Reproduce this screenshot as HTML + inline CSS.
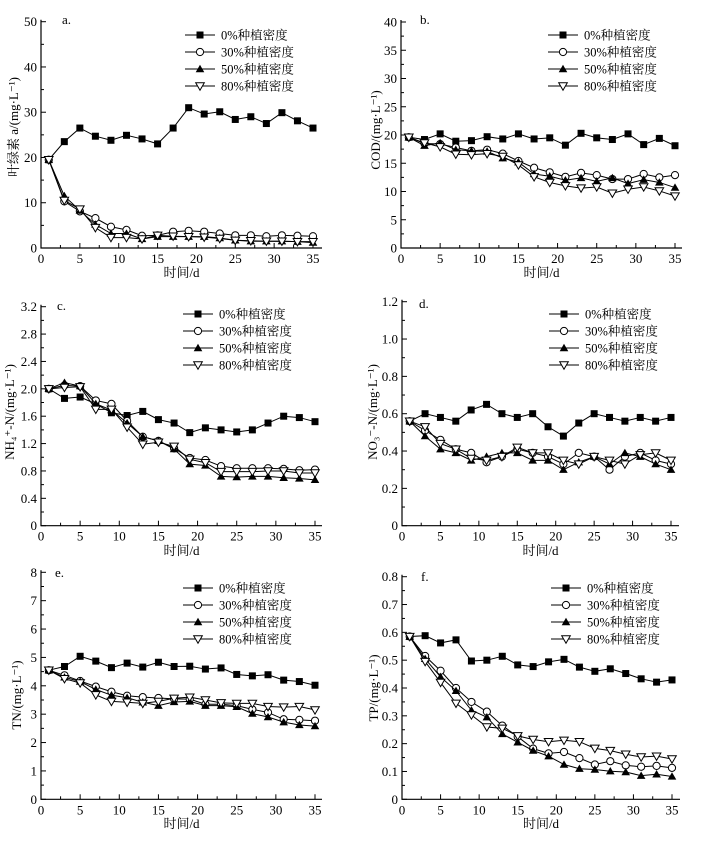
<!DOCTYPE html>
<html><head><meta charset="utf-8"><style>
html,body{margin:0;padding:0;background:#fff}
svg{display:block}
text{font-family:"Liberation Serif","Noto Serif CJK SC","Noto Sans CJK SC",serif;fill:#000}
</style></head><body>
<svg id="chart" width="704" height="847" viewBox="0 0 704 847" xmlns="http://www.w3.org/2000/svg"></svg>
<script>
const days=[1,3,5,7,9,11,13,15,17,19,21,23,25,27,29,31,33,35];
const seriesNames=["0%种植密度","30%种植密度","50%种植密度","80%种植密度"];
const chlA0=[19.5,23.5,26.5,24.7,23.8,24.9,24.1,23,26.5,31,29.6,30.1,28.4,29,27.5,29.9,28.1,26.5];
const chlA30=[19.5,10.3,8.1,6.6,4.7,4,2.7,2.8,3.6,3.8,3.6,3.2,2.8,2.8,2.6,2.8,2.7,2.6];
const chlA50=[19.5,11.5,8.3,5.2,3.2,3.2,2,2.5,2.5,2.5,2.5,2.2,1.7,1.5,1.5,1.5,1.4,1.2];
const chlA80=[19.5,10.5,8.6,4.5,2.3,2.3,2,2.8,2.6,2.5,2.4,2.1,1.7,1.6,1.5,1.5,1.4,1.4];
const cod0=[19.6,19.2,20.2,18.9,19,19.7,19.3,20.2,19.3,19.5,18.2,20.3,19.5,19.2,20.2,18.3,19.4,18.1];
const cod30=[19.6,18.5,18.4,17.8,17.2,17.4,16.7,15.4,14.2,13.4,12.6,13.3,12.9,12.2,12.2,13.1,12.5,12.9];
const cod50=[19.6,18.1,18.6,17.4,17.2,17.1,15.9,15.2,13.1,12.7,12,12.4,11.8,12.4,11.4,12.1,11.6,10.7];
const cod80=[19.6,18.6,17.9,16.6,16.5,16.7,16.2,14.7,12.6,11.6,11,10.6,10.8,9.7,10.4,10.8,10.1,9.2];
const nh0=[2.0,1.86,1.88,1.78,1.65,1.61,1.67,1.55,1.5,1.36,1.43,1.4,1.37,1.4,1.5,1.6,1.58,1.52];
const nh30=[2.0,2.05,2.04,1.83,1.78,1.53,1.3,1.24,1.13,0.99,0.96,0.87,0.84,0.84,0.84,0.83,0.81,0.82];
const nh50=[2.0,2.09,2.04,1.78,1.69,1.5,1.3,1.24,1.12,0.9,0.88,0.72,0.71,0.72,0.72,0.7,0.69,0.67];
const nh80=[2.0,2.02,2.03,1.7,1.7,1.44,1.19,1.22,1.16,0.97,0.92,0.79,0.79,0.79,0.8,0.8,0.77,0.77];
const no0=[0.56,0.6,0.58,0.56,0.62,0.65,0.6,0.58,0.6,0.53,0.48,0.55,0.6,0.58,0.56,0.58,0.56,0.58];
const no30=[0.56,0.51,0.46,0.41,0.39,0.34,0.37,0.41,0.39,0.37,0.33,0.39,0.37,0.3,0.37,0.39,0.35,0.33];
const no50=[0.56,0.48,0.41,0.39,0.35,0.37,0.39,0.39,0.35,0.35,0.3,0.34,0.37,0.33,0.39,0.37,0.33,0.3];
const no80=[0.56,0.53,0.44,0.41,0.36,0.35,0.37,0.42,0.39,0.39,0.35,0.33,0.37,0.35,0.33,0.38,0.39,0.35];
const tn0=[4.55,4.68,5.04,4.87,4.64,4.8,4.66,4.83,4.68,4.69,4.59,4.63,4.4,4.35,4.39,4.2,4.15,4.02];
const tn30=[4.55,4.37,4.17,3.97,3.79,3.65,3.6,3.57,3.54,3.53,3.35,3.35,3.3,3.17,3.06,2.82,2.8,2.77];
const tn50=[4.55,4.3,4.15,3.87,3.67,3.58,3.42,3.3,3.43,3.45,3.3,3.3,3.26,3.02,2.9,2.72,2.62,2.58];
const tn80=[4.55,4.25,4.1,3.68,3.45,3.42,3.38,3.45,3.56,3.6,3.5,3.4,3.38,3.38,3.27,3.25,3.27,3.15];
const tp0=[0.585,0.588,0.562,0.573,0.497,0.5,0.514,0.483,0.477,0.494,0.503,0.475,0.46,0.469,0.452,0.433,0.421,0.429];
const tp30=[0.585,0.515,0.462,0.4,0.35,0.315,0.265,0.225,0.182,0.165,0.17,0.148,0.125,0.137,0.122,0.117,0.12,0.113];
const tp50=[0.585,0.505,0.44,0.39,0.32,0.295,0.235,0.205,0.175,0.155,0.125,0.11,0.107,0.101,0.098,0.085,0.09,0.082];
const tp80=[0.585,0.495,0.42,0.345,0.303,0.26,0.255,0.228,0.215,0.207,0.212,0.207,0.183,0.175,0.162,0.152,0.155,0.145];
const xTicks=[0,5,10,15,20,25,30,35];
const yTicksA=["0","10","20","30","40","50"];
const yTicksB=["0","5","10","15","20","25","30","35","40"];
const yTicksC=["0","0.4","0.8","1.2","1.6","2.0","2.4","2.8","3.2"];
const yTicksD=["0","0.2","0.4","0.6","0.8","1.0","1.2"];
const yTicksE=["0","1","2","3","4","5","6","7","8"];
const yTicksF=["0","0.1","0.2","0.3","0.4","0.5","0.6","0.7","0.8"];

const NS="http://www.w3.org/2000/svg";
const svg=document.getElementById('chart');
function mk(tag,attrs,parent){const e=document.createElementNS(NS,tag);for(const k in attrs)e.setAttribute(k,attrs[k]);(parent||svg).appendChild(e);return e;}

const panels=[
 {id:"a",label:"a.",x0:41,x35:313,xEnd:322,yTop:21.7,yBot:248,yMax:50,ticks:yTicksA,series:[chlA0,chlA30,chlA50,chlA80],lab:[62,24],leg:[185,35],ytitle:"叶绿素 a/(mg·L⁻¹)",yt:[14,127],xt:277},
 {id:"b",label:"b.",x0:401,x35:675,xEnd:682,yTop:22,yBot:248,yMax:40,ticks:yTicksB,series:[cod0,cod30,cod50,cod80],lab:[420,24],leg:[548,35],ytitle:"COD/(mg·L⁻¹)",yt:[376,130],xt:277},
 {id:"c",label:"c.",x0:41,x35:315,xEnd:322,yTop:306.7,yBot:525.7,yMax:3.2,ticks:yTicksC,series:[nh0,nh30,nh50,nh80],lab:[57,310],leg:[183,314],ytitle:"NH₄⁺-N/(mg·L⁻¹)",yt:[10,412],xt:555},
 {id:"d",label:"d.",x0:402,x35:671,xEnd:679,yTop:301.7,yBot:525.7,yMax:1.2,ticks:yTicksD,series:[no0,no30,no50,no80],lab:[419,308],leg:[549,314],ytitle:"NO₃⁻-N/(mg·L⁻¹)",yt:[373,412],xt:555},
 {id:"e",label:"e.",x0:41,x35:315,xEnd:322,yTop:572.3,yBot:799.3,yMax:8,ticks:yTicksE,series:[tn0,tn30,tn50,tn80],lab:[55,577],leg:[183,588],ytitle:"TN/(mg·L⁻¹)",yt:[17,695],xt:828},
 {id:"f",label:"f.",x0:402,x35:672,xEnd:680,yTop:576.7,yBot:799.3,yMax:0.8,ticks:yTicksF,series:[tp0,tp30,tp50,tp80],lab:[421,581],leg:[551,588],ytitle:"TP/(mg·L⁻¹)",yt:[374,688],xt:828}
];

function marker(g,type,cx,cy){
  let m;
  if(type===0) m=mk('rect',{x:cx-3.5,y:cy-3.5,width:7,height:7,fill:'#000'},g);
  else if(type===1) m=mk('circle',{cx:cx,cy:cy,r:3.6,fill:'#fff',stroke:'#000','stroke-width':1},g);
  else if(type===2) m=mk('polygon',{points:`${cx},${cy-4.2} ${cx-4.3},${cy+3.2} ${cx+4.3},${cy+3.2}`,fill:'#000'},g);
  else m=mk('polygon',{points:`${cx-4.3},${cy-3.2} ${cx+4.3},${cy-3.2} ${cx},${cy+4.2}`,fill:'#fff',stroke:'#000','stroke-width':1},g);
  return m;
}
const serKeys=["0pct","30pct","50pct","80pct"];

panels.forEach(p=>{
  const g=mk('g',{});
  
  
  const xs=v=>p.x0+(v/35)*(p.x35-p.x0);
  const ys=v=>p.yBot-(v/p.yMax)*(p.yBot-p.yTop);
  const ax=mk('path',{d:`M${p.x0},${p.yTop-2}V${p.yBot}H${p.xEnd}`,fill:'none',stroke:'#000','stroke-width':1.2},g);
  
  
  // y ticks
  const n=p.ticks.length-1;
  p.ticks.forEach((t,i)=>{
    const y=p.yBot-(i/n)*(p.yBot-p.yTop);
    mk('line',{x1:p.x0,x2:p.x0+5,y1:y,y2:y,stroke:'#000','stroke-width':1},g);
    if(i<n){const ym=y-(p.yBot-p.yTop)/n/2;mk('line',{x1:p.x0,x2:p.x0+3,y1:ym,y2:ym,stroke:'#000','stroke-width':1},g);}
    const tx=mk('text',{x:p.x0-4,y:y+4.5,'text-anchor':'end','font-size':13},g);
    tx.textContent=t;
    
    
  });
  xTicks.forEach((t,i)=>{
    const x=xs(t);
    mk('line',{x1:x,x2:x,y1:p.yBot,y2:p.yBot-5,stroke:'#000','stroke-width':1},g);
    const xm=xs(t+2.5);
    if(xm<p.xEnd) mk('line',{x1:xm,x2:xm,y1:p.yBot,y2:p.yBot-3,stroke:'#000','stroke-width':1},g);
    const tx=mk('text',{x:x,y:p.yBot+15,'text-anchor':'middle','font-size':13},g);
    tx.textContent=t;
    
    
  });
  const xt=mk('text',{x:(p.x0+p.xEnd)/2,y:p.xt,'text-anchor':'middle','font-size':13},g);
  xt.textContent="时间/d";
  
  
  const yt=mk('text',{x:0,y:0,'text-anchor':'middle','font-size':13,transform:`translate(${p.yt[0]+4},${p.yt[1]}) rotate(-90)`},g);
  yt.textContent=p.ytitle;
  
  
  const pl=mk('text',{x:p.lab[0],y:p.lab[1],'font-size':13},g);
  pl.textContent=p.label;
  
  
  p.series.forEach((s,k)=>{
    const sg=mk('g',{},g);
    
    
    const pts=s.map((v,i)=>xs(days[i])+','+ys(v)).join(' ');
    mk('polyline',{points:pts,fill:'none',stroke:'#000','stroke-width':1},sg);
    s.forEach((v,i)=>{
      const m=marker(sg,k,xs(days[i]),ys(v));
      
      
    });
  });
  // legend
  const lg=mk('g',{},g);
  
  
  seriesNames.forEach((nm,k)=>{
    const y=p.leg[1]+k*17;
    const eg=mk('g',{},lg);
    
    
    mk('line',{x1:p.leg[0],x2:p.leg[0]+30,y1:y,y2:y,stroke:'#000','stroke-width':1},eg);
    marker(eg,k,p.leg[0]+15,y);
    const t=mk('text',{x:p.leg[0]+36,y:y+4.5,'font-size':12.5},eg);
    t.textContent=nm;
  });
});
</script>
</body></html>
